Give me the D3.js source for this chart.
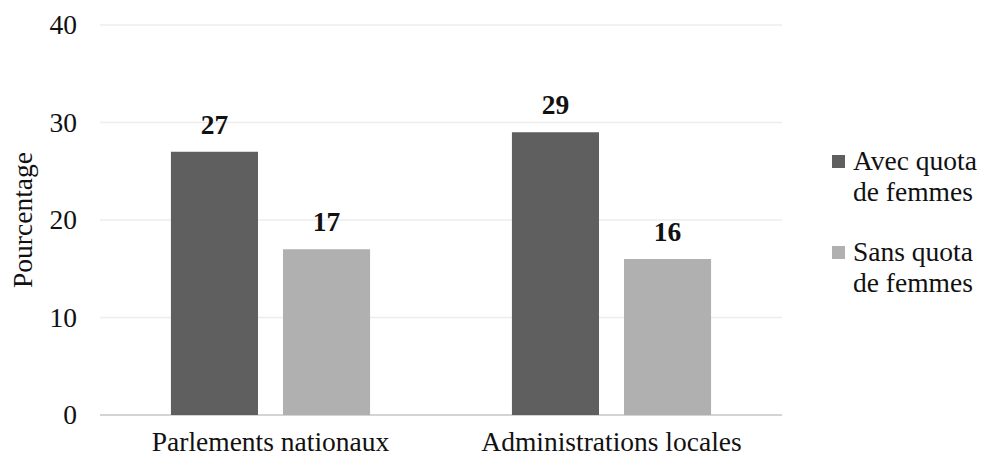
<!DOCTYPE html>
<html>
<head>
<meta charset="utf-8">
<script src="https://cdn.jsdelivr.net/npm/d3@7"></script>
</head>
<body style="margin:0; background:#fff">
<div id="chart"></div>
<script>
var categories = ["Parlements nationaux", "Administrations locales"];
var seriesNames = ["Avec quota de femmes", "Sans quota de femmes"];
var legendLines = [["Avec quota", "de femmes"], ["Sans quota", "de femmes"]];
var avecQuota = [27, 29];
var sansQuota = [17, 16];
var yTicks = [0, 10, 20, 30, 40];
var colors = ["#5f5f5f", "#b0b0b0"];

var width = 981, height = 459;
var margin = {top: 25, right: 199, bottom: 44, left: 100};
var font = "Liberation Serif";
var fs = 27.5;

var svg = d3.select("#chart").append("svg")
    .attr("width", width)
    .attr("height", height)
    .attr("font-family", font);

var x0 = d3.scaleBand()
    .domain(categories)
    .range([margin.left, width - margin.right])
    .paddingInner(0.416)
    .paddingOuter(0.208);

var x1 = d3.scaleBand()
    .domain(seriesNames)
    .range([0, x0.bandwidth()])
    .paddingInner(0.223);

var y = d3.scaleLinear()
    .domain([0, 40])
    .range([height - margin.bottom, margin.top]);

// gridlines
svg.append("g").selectAll("line")
    .data(yTicks)
    .enter().append("line")
    .attr("x1", margin.left)
    .attr("x2", width - margin.right)
    .attr("y1", function(d) { return y(d); })
    .attr("y2", function(d) { return y(d); })
    .attr("stroke", function(d) { return d == 0 ? "#d4d4d4" : "#ececec"; })
    .attr("stroke-width", function(d) { return d == 0 ? 2 : 1.5; });

// y axis labels
svg.append("g").selectAll("text")
    .data(yTicks)
    .enter().append("text")
    .attr("x", 77)
    .attr("y", function(d) { return y(d); })
    .attr("dy", "0.34em")
    .attr("text-anchor", "end")
    .attr("font-family", font)
    .attr("font-size", fs)
    .attr("fill", "#111")
    .text(function(d) { return d; });

svg.append("text")
    .attr("transform", "translate(32," + ((y(0) + y(40)) / 2) + ") rotate(-90)")
    .attr("text-anchor", "middle")
    .attr("font-family", font)
    .attr("font-size", fs)
    .attr("fill", "#111")
    .text("Pourcentage");

var rows = categories.map(function(c, i) {
    return {cat: c, values: [avecQuota[i], sansQuota[i]]};
});

var groups = svg.append("g").selectAll("g")
    .data(rows)
    .enter().append("g")
    .attr("transform", function(d) { return "translate(" + x0(d.cat) + ",0)"; });

groups.selectAll("rect")
    .data(function(d) { return d.values.map(function(v, j) { return {s: seriesNames[j], v: v, j: j}; }); })
    .enter().append("rect")
    .attr("x", function(d) { return x1(d.s); })
    .attr("width", x1.bandwidth())
    .attr("y", function(d) { return y(d.v); })
    .attr("height", function(d) { return y(0) - y(d.v); })
    .attr("fill", function(d) { return colors[d.j]; });

groups.selectAll(".val")
    .data(function(d) { return d.values.map(function(v, j) { return {s: seriesNames[j], v: v}; }); })
    .enter().append("text")
    .attr("class", "val")
    .attr("x", function(d) { return x1(d.s) + x1.bandwidth() / 2; })
    .attr("y", function(d) { return y(d.v) - 18; })
    .attr("text-anchor", "middle")
    .attr("font-family", font)
    .attr("font-size", fs)
    .attr("font-weight", "bold")
    .attr("fill", "#111")
    .text(function(d) { return d.v; });

// category labels
svg.append("g").selectAll("text")
    .data(categories)
    .enter().append("text")
    .attr("x", function(d) { return x0(d) + x0.bandwidth() / 2; })
    .attr("y", 451)
    .attr("text-anchor", "middle")
    .attr("font-family", font)
    .attr("font-size", fs)
    .attr("fill", "#111")
    .text(function(d) { return d; });

// legend
var legend = svg.append("g").selectAll("g")
    .data(seriesNames)
    .enter().append("g")
    .attr("transform", function(d, i) { return "translate(832," + (155 + i * 91) + ")"; });

legend.append("rect")
    .attr("width", 13)
    .attr("height", 13)
    .attr("fill", function(d, i) { return colors[i]; });

legend.each(function(d, i) {
    var t = d3.select(this).append("text")
        .attr("x", 21)
        .attr("y", 15)
        .attr("font-family", font)
        .attr("font-size", fs)
        .attr("fill", "#111");
    legendLines[i].forEach(function(line, k) {
        t.append("tspan")
            .attr("x", 21)
            .attr("dy", k == 0 ? 0 : 31)
            .text(line);
    });
});
</script>
</body>
</html>
